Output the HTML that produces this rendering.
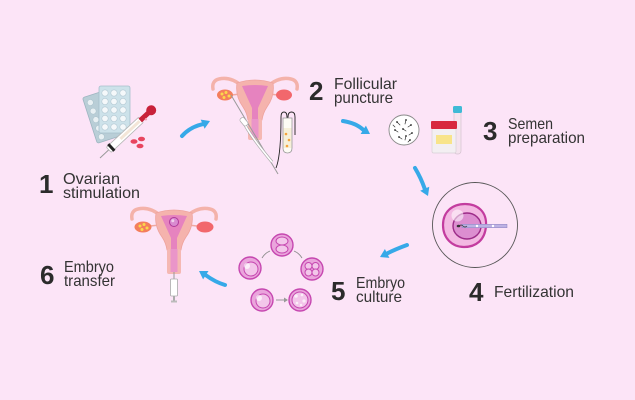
<!DOCTYPE html>
<html><head><meta charset="utf-8"><style>
html,body{margin:0;padding:0;background:#fce4f7;}
svg{display:block}
text{font-family:"Liberation Sans",sans-serif;fill:#333;}
.d{font-weight:bold;font-size:26px;fill:#2b2b2b;}
.l{font-size:16px;}
</style></head><body>
<svg width="635" height="400" viewBox="0 0 635 400" xmlns="http://www.w3.org/2000/svg">
<rect width="635" height="400" fill="#fce4f7"/>

<!-- ===== 1 Ovarian stimulation ===== -->
<g transform="rotate(-18 107 115)">
  <rect x="89" y="91" width="34" height="48" rx="2" fill="#b9ced7" stroke="#9db5c0" stroke-width="0.8"/>
  <g fill="#e8f0f3" stroke="#a9c0ca" stroke-width="0.5">
    <circle cx="95" cy="98" r="3"/><circle cx="95" cy="107" r="3"/><circle cx="95" cy="116" r="3"/><circle cx="95" cy="125" r="3"/><circle cx="95" cy="134" r="3"/>
  </g>
</g>
<rect x="99" y="86" width="31" height="47" rx="2" fill="#cde2ea" stroke="#a6c0cc" stroke-width="0.8"/>
<g fill="#f4f8fa" stroke="#b3c9d3" stroke-width="0.6">
  <circle cx="105" cy="93" r="3.2"/><circle cx="114" cy="93" r="3.2"/><circle cx="123" cy="93" r="3.2"/>
  <circle cx="105" cy="101.5" r="3.2"/><circle cx="114" cy="101.5" r="3.2"/><circle cx="123" cy="101.5" r="3.2"/>
  <circle cx="105" cy="110" r="3.2"/><circle cx="114" cy="110" r="3.2"/><circle cx="123" cy="110" r="3.2"/>
  <circle cx="105" cy="118.5" r="3.2"/><circle cx="114" cy="118.5" r="3.2"/><circle cx="123" cy="118.5" r="3.2"/>
  <circle cx="105" cy="127" r="3.2"/><circle cx="114" cy="127" r="3.2"/><circle cx="123" cy="127" r="3.2"/>
</g>
<g transform="translate(100,158) rotate(-43)">
  <line x1="0" y1="0" x2="13" y2="0" stroke="#999" stroke-width="1"/>
  <rect x="12" y="-3.5" width="44" height="7" rx="1" fill="#fff" stroke="#b5b5b5" stroke-width="0.8"/>
  <rect x="28" y="-1.5" width="26" height="3" fill="#f3e6d8"/>
  <rect x="14" y="-4.5" width="3" height="9" fill="#222"/>
  <rect x="55" y="-2.5" width="12" height="5" fill="#c8213a"/>
  <circle cx="70" cy="0" r="5" fill="#c8213a"/>
  <circle cx="60" cy="3" r="1.2" fill="#f2a0b0"/>
</g>
<g fill="#e8455f">
  <ellipse cx="134" cy="141.5" rx="3.5" ry="2.3"/>
  <ellipse cx="141.5" cy="139" rx="3.5" ry="2.3"/>
  <ellipse cx="140" cy="146" rx="3.5" ry="2.3"/>
</g>
<text class="d" x="39" y="193">1</text>
<text class="l" x="63" y="184" textLength="57" lengthAdjust="spacingAndGlyphs">Ovarian</text>
<text class="l" x="63" y="198" textLength="77" lengthAdjust="spacingAndGlyphs">stimulation</text>

<!-- ===== 2 Follicular puncture ===== -->
<g transform="translate(255,80)">
  <g fill="none" stroke="#f4b2aa" stroke-width="3.5" stroke-linecap="round">
    <path d="M -13,6 C -20,0 -28,-3 -36,-1 C -41,0 -43,4 -42,9"/>
    <path d="M 13,6 C 20,0 28,-3 36,-1 C 41,0 43,4 42,9"/>
  </g>
  <line x1="-14" y1="14" x2="-24" y2="15" stroke="#f0a8a0" stroke-width="1.5"/>
  <line x1="14" y1="14" x2="23" y2="15" stroke="#f0a8a0" stroke-width="1.5"/>
  <ellipse cx="-30" cy="15" rx="8" ry="5.5" fill="#f47e5c"/>
  <g fill="#fbd84a"><circle cx="-33" cy="14" r="1.5"/><circle cx="-29" cy="12.5" r="1.5"/><circle cx="-26" cy="16" r="1.5"/><circle cx="-31" cy="17.5" r="1.5"/></g>
  <ellipse cx="29" cy="15" rx="8" ry="5.5" fill="#f2676c"/>
  <path d="M -18,3 Q 0,-3 18,3 Q 20,16 12,27 Q 8,33 7,40 L -7,40 Q -8,33 -12,27 Q -20,16 -18,3 Z" fill="#f5b3ad" stroke="#eea39d" stroke-width="0.8"/>
  <path d="M -13,6 Q 0,4 13,6 L 3,28 L 3,40 L -3,40 L -3,28 Z" fill="#e683bf"/>
  <rect x="-7" y="39" width="14" height="21" rx="2" fill="#f5b8b3"/>
  <rect x="-3.5" y="39" width="7" height="19" fill="#ea95c9"/>
</g>
<line x1="231" y1="95" x2="278" y2="174" stroke="#9a9a9a" stroke-width="1"/>
<path d="M244,123 C 250,135 262,150 272,162" fill="none" stroke="#aaa" stroke-width="3"/>
<path d="M244,123 C 250,135 262,150 272,162" fill="none" stroke="#fff" stroke-width="1.6"/>
<rect x="240" y="119" width="9" height="5" rx="2" fill="#fff" stroke="#aaa" stroke-width="0.7" transform="rotate(50 244 121)"/>
<path d="M276,168 C 280,158 281,135 281,117 Q 281,112 284,112 Q 287,112 287,117 L 287,122 M 288,122 L 288,117 Q 288,112 291.5,112 Q 295,112 295,117 L 295,135" fill="none" stroke="#222" stroke-width="0.9"/>
<path d="M283,118 L283,148 Q283,153 287.5,153 Q292,153 292,148 L292,118 Z" fill="#fdfbf4" stroke="#999" stroke-width="0.8"/>
<rect x="283.5" y="128" width="8" height="20" fill="#f7f0d8"/>
<g fill="#f5a33c"><circle cx="286" cy="134" r="1.3"/><circle cx="289" cy="140" r="1.3"/><circle cx="287" cy="146" r="1.3"/></g>
<text class="d" x="309" y="100">2</text>
<text class="l" x="334" y="89" textLength="63" lengthAdjust="spacingAndGlyphs">Follicular</text>
<text class="l" x="334" y="103" textLength="59" lengthAdjust="spacingAndGlyphs">puncture</text>

<!-- ===== 3 Semen preparation ===== -->
<circle cx="404" cy="130" r="15" fill="#fff" stroke="#8a8a8a" stroke-width="0.9"/>
<g stroke="#333" stroke-width="0.7" stroke-linecap="round">
  <line x1="397" y1="122" x2="400" y2="125"/><line x1="406" y1="120" x2="405" y2="124"/>
  <line x1="411" y1="125" x2="408" y2="127"/><line x1="395" y1="130" x2="398" y2="132"/>
  <line x1="403" y1="129" x2="406" y2="131"/><line x1="412" y1="133" x2="409" y2="135"/>
  <line x1="399" y1="137" x2="402" y2="139"/><line x1="406" y1="136" x2="405" y2="140"/>
  <line x1="393" y1="125" x2="395" y2="127"/><line x1="410" y1="140" x2="408" y2="142"/>
</g>
<g fill="#222">
  <circle cx="397" cy="122" r="0.9"/><circle cx="406" cy="120" r="0.9"/><circle cx="411" cy="125" r="0.9"/>
  <circle cx="395" cy="130" r="0.9"/><circle cx="403" cy="129" r="0.9"/><circle cx="412" cy="133" r="0.9"/>
  <circle cx="399" cy="137" r="0.9"/><circle cx="406" cy="136" r="0.9"/><circle cx="410" cy="140" r="0.9"/>
</g>
<rect x="454" y="109" width="7" height="45" rx="3" fill="#f5e3ee" stroke="#d4c2cf" stroke-width="0.7"/>
<rect x="453" y="106" width="9" height="7" rx="1.5" fill="#3fbad6"/>
<rect x="432" y="128" width="24" height="25" rx="1.5" fill="#f3eff2" stroke="#d8d0d6" stroke-width="0.7"/>
<rect x="431" y="121" width="26" height="8" rx="1" fill="#d8283f"/>
<rect x="436" y="135" width="16" height="9" fill="#f8e48a"/>
<text class="d" x="483" y="140">3</text>
<text class="l" x="508" y="129" textLength="45" lengthAdjust="spacingAndGlyphs">Semen</text>
<text class="l" x="508" y="143" textLength="77" lengthAdjust="spacingAndGlyphs">preparation</text>

<!-- ===== 4 Fertilization ===== -->
<circle cx="475" cy="225" r="42.5" fill="none" stroke="#555" stroke-width="0.9"/>
<path d="M465,204 C 478,204 487,212 486,226 C 485,240 476,247 464,247 C 452,247 443,238 443,225 C 443,212 452,204 465,204 Z" fill="#f3b8e2" stroke="#c33c9f" stroke-width="2.2"/>
<ellipse cx="467" cy="226" rx="14" ry="13" fill="#dc8ed0" stroke="#9c2b88" stroke-width="1.4"/>
<circle cx="457.5" cy="215.5" r="6" fill="#fff" opacity="0.55"/>
<rect x="462" y="224.3" width="45" height="3.4" fill="#bdb2e4" stroke="#8a80c0" stroke-width="0.5"/>
<circle cx="477" cy="226" r="1.2" fill="#fff"/><circle cx="493" cy="226" r="1.2" fill="#fff"/>
<path d="M459,226 q 2,-2 4,0 t 4,0" fill="none" stroke="#333" stroke-width="0.6"/>
<ellipse cx="458.5" cy="226" rx="1.8" ry="1.3" fill="#333"/>
<text class="d" x="469" y="301">4</text>
<text class="l" x="494" y="297" textLength="80" lengthAdjust="spacingAndGlyphs">Fertilization</text>

<!-- ===== 5 Embryo culture ===== -->
<g fill="none" stroke="#8c8c8c" stroke-width="0.9">
  <path d="M262,258 Q 265,253 270,251"/>
  <path d="M294,251 Q 299,253 302,258"/>
</g>
<line x1="276" y1="300" x2="285" y2="300" stroke="#999" stroke-width="1"/>
<path d="M284,297.5 L288,300 L284,302.5 Z" fill="#999"/>
<g stroke="#c647b0" fill="#eaa5dc" stroke-width="1.4">
  <circle cx="282" cy="245" r="11"/>
  <circle cx="250" cy="268" r="11"/>
  <circle cx="312" cy="269" r="11"/>
  <circle cx="262" cy="300" r="11"/>
  <circle cx="300" cy="300" r="11"/>
</g>
<g stroke="#c647b0" stroke-width="1" fill="#f3c6ea">
  <ellipse cx="282" cy="241" rx="6" ry="4"/>
  <ellipse cx="282" cy="249" rx="6" ry="4"/>
  <circle cx="251" cy="269" r="7"/>
  <circle cx="308.5" cy="266" r="3.5"/><circle cx="315.5" cy="266" r="3.5"/>
  <circle cx="308.5" cy="272.5" r="3.5"/><circle cx="315.5" cy="272.5" r="3.5"/>
  <circle cx="263" cy="301" r="7"/>
  <circle cx="300" cy="300" r="8"/>
</g>
<g fill="#fff" opacity="0.7">
  <circle cx="247" cy="266" r="3"/><circle cx="259" cy="298" r="3"/>
  <circle cx="296" cy="296" r="1.8"/><circle cx="302" cy="295" r="1.3"/><circle cx="304" cy="301" r="1.6"/><circle cx="297" cy="303" r="1.3"/><circle cx="301" cy="305" r="1.2"/>
</g>
<text class="d" x="331" y="300">5</text>
<text class="l" x="356" y="288" textLength="49" lengthAdjust="spacingAndGlyphs">Embryo</text>
<text class="l" x="356" y="302" textLength="46" lengthAdjust="spacingAndGlyphs">culture</text>

<!-- ===== 6 Embryo transfer ===== -->
<g transform="translate(174,210)">
  <g fill="none" stroke="#f4b2aa" stroke-width="3.5" stroke-linecap="round">
    <path d="M -13,6 C -20,0 -28,-3 -36,-1 C -41,0 -43,4 -42,9"/>
    <path d="M 13,6 C 20,0 28,-3 36,-1 C 41,0 43,4 42,9"/>
  </g>
  <line x1="-14" y1="15" x2="-24" y2="16" stroke="#f0a8a0" stroke-width="1.5"/>
  <line x1="14" y1="15" x2="23" y2="16" stroke="#f0a8a0" stroke-width="1.5"/>
  <ellipse cx="-31" cy="17" rx="8.5" ry="5.5" fill="#f47e5c"/>
  <g fill="#fbd84a"><circle cx="-34" cy="16" r="1.5"/><circle cx="-30" cy="14.5" r="1.5"/><circle cx="-27" cy="18" r="1.5"/><circle cx="-32" cy="19.5" r="1.5"/></g>
  <ellipse cx="31" cy="17" rx="8.5" ry="5.5" fill="#f2676c"/>
  <path d="M -18,3 Q 0,-3 18,3 Q 20,16 12,27 Q 8,33 7,40 L -7,40 Q -8,33 -12,27 Q -20,16 -18,3 Z" fill="#f5b3ad" stroke="#eea39d" stroke-width="0.8"/>
  <path d="M -13,6 Q 0,4 13,6 L 3,28 L 3,40 L -3,40 L -3,28 Z" fill="#e683bf"/>
  <circle cx="0" cy="12" r="4.5" fill="#d98bd0" stroke="#b03a9a" stroke-width="1"/>
  <circle cx="-1.2" cy="10.8" r="1.5" fill="#fff" opacity="0.6"/>
  <rect x="-7" y="39" width="14" height="25" rx="2" fill="#f5b8b3"/>
  <rect x="-3.5" y="39" width="7" height="23" fill="#ea95c9"/>
</g>
<line x1="174" y1="272" x2="174" y2="280" stroke="#999" stroke-width="1"/>
<rect x="170.5" y="279" width="7" height="17" rx="1" fill="#fff" stroke="#aaa" stroke-width="0.8"/>
<line x1="174" y1="296" x2="174" y2="301" stroke="#aaa" stroke-width="2"/>
<rect x="171" y="300.5" width="6" height="2" fill="#bbb"/>
<text class="d" x="40" y="284">6</text>
<text class="l" x="64" y="272" textLength="50" lengthAdjust="spacingAndGlyphs">Embryo</text>
<text class="l" x="64" y="286" textLength="51" lengthAdjust="spacingAndGlyphs">transfer</text>

<!-- ===== Arrows ===== -->
<g fill="none" stroke="#36a9e8" stroke-width="4" stroke-linecap="round">
  <path d="M182,136 Q190,127 202.6,124.2"/>
  <path d="M343,121 Q356,123 363.2,129.8"/>
  <path d="M415,168 Q421,178 424.7,188.7"/>
  <path d="M407,245 Q396,249 387.2,253.4"/>
  <path d="M225,285 Q215,282 205.8,275.2"/>
</g>
<g fill="#36a9e8">
  <polygon points="210,121 204.6,128.7 200.7,119.6"/>
  <polygon points="370,134 360.6,134 365.9,125.6"/>
  <polygon points="428,196 420.2,190.7 429.3,186.7"/>
  <polygon points="380,257 389.4,257.9 384.9,249"/>
  <polygon points="199,271 208.5,271 203.1,279.4"/>
</g>
</svg>
</body></html>
